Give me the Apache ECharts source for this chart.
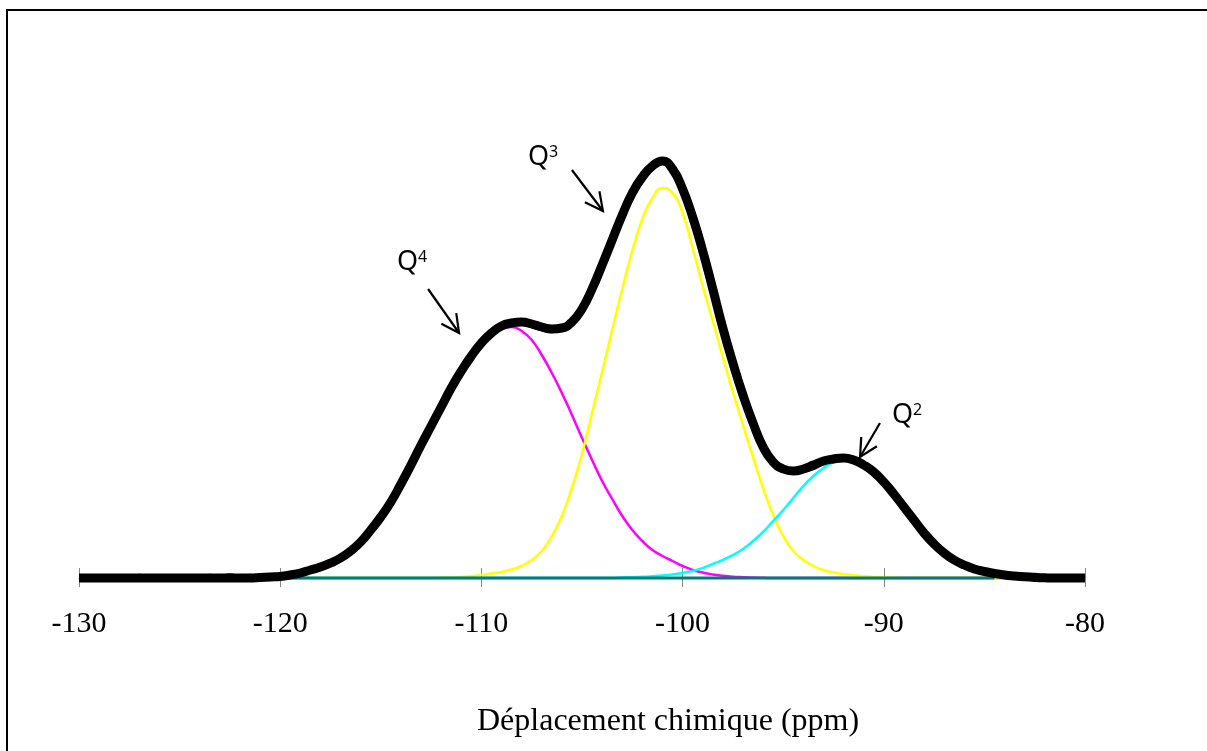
<!DOCTYPE html>
<html><head><meta charset="utf-8">
<script src="https://cdn.jsdelivr.net/npm/echarts@6/dist/echarts.min.js"></script>
<style>html,body{margin:0;padding:0;background:#fff;}#c{width:1207px;height:751px;}</style>
</head><body><div id="c"></div>
<script>
// chemical shift grid (ppm)
const ppm = [-130,-129.5,-129,-128.5,-128,-127.5,-127,-126.5,-126,-125.5,-125,-124.5,-124,-123.5,-123,-122.5,-122,-121.5,
-121,-120.5,-120,-119.5,-119,-118.5,-118,-117.5,-117,-116.5,-116,-115.5,-115,-114.5,-114,-113.5,-113,-112.5,-112,-111.5,
-111,-110.5,-110,-109.5,-109,-108.5,-108,-107.5,-107,-106.5,-106,-105.5,-105,-104.5,-104,-103.5,-103,-102.5,-102,-101.5,
-101,-100.5,-100,-99.5,-99,-98.5,-98,-97.5,-97,-96.5,-96,-95.5,-95,-94.5,-94,-93.5,-93,-92.5,-92,-91.5,
-91,-90.5,-90,-89.5,-89,-88.5,-88,-87.5,-87,-86.5,-86,-85.5,-85,-84.5,-84,-83.5,-83,-82.5,-82,-81.5,-81,-80.5,-80];

// total fit (black)
const totalFit = [0,0,0,0,0,0,0,0,0,0,0,0,0,0,0,0,0,0,
0.5,1,1.5,3,5,8,11,15,20,27,36,48,61,76,94,113,133,152,171,190,
207,222,235,245,252,255,256,254,251,249,250,256,269,289,313,338,363,385,401,412,
417,409,389,361,327,289,250,215,183,155,131,116,109,107,109,113,117,119,120,118,
113,106,96,84,71,58,45,34,25,18,13,9,6.5,4.5,3,2,1.2,0.6,0.2,0,0,0,0];

// experimental spectrum (navy)
const experimental = [0,0,0,0,0,1,3,1,0,0,1.5,2.5,1,3,2,3.5,2,3,
1,1.5,2,3.5,6,9,12,17,22,29,39,51,64,80,98,117,137,156,175,193,
210,225,237,246,252,254,254,251,248,246,248,255,270,291,316,341,366,387,402,412,
416,410,393,366,333,295,256,221,188,159,133,115,107,105,106,109,114,118,120,118,
113,106,96,83,69,55,42,32,24,18,13,9,6.5,4.5,5,2.5,1.5,4,1,0,0,0,2];

// Q4 component (magenta)
const q4 = [0,0,0,0,0,0,0,0,0,0,0,0,0,0,0,0,0,0,
0,0,1,2,4,6,9,13,18,25,34,45,59,74,91,110,130,149,168,187,
204,219,231,242,249,251,247,238,223,205,185,163,140,118,97,79,62,48,37,28,
22,17,12,8,5.5,3.5,2.2,1.3,0.8,0.4,0.2,0,0,0,0,0,0,0,0,0,
0,0,0,0,0,0,0,0,0,0,0,0,0,0,0,0,0,0,0,0,0,0,0];

// Q3 component (yellow)
const q3 = [0,0,0,0,0,0,0,0,0,0,0,0,0,0,0,0,0,0,
0,0,0,0,0,0,0,0,0,0,0,0,0,0,0,0,0,0,0.3,0.6,
1,2,3,4.5,6,8.5,12,18,27,42,62,90,124,165,206,248,289,327,359,380,
390,385,365,330,292,257,221,186,153,121,90,63,42,27,18,12,8,5.5,4,2.7,
1.8,1.1,0.6,0.3,0,0,0,0,0,0,0,0,0,0,0,0,0,0,0,0,0,0,0];

// Q2 component (cyan)
const q2 = [0,0,0,0,0,0,0,0,0,0,0,0,0,0,0,0,0,0,
0,0,0,0,0,0,0,0,0,0,0,0,0,0,0,0,0,0,0,0,
0,0,0,0,0,0,0,0,0,0,0,0,0,0,0,0,0.5,0.8,1.2,1.8,
2.5,3.5,5,7,10,14,18,23,29,37,46,57,68,80,92,102,110,116,119,117,
112,105,95,83,70,57,44,33,24,17,12,8.5,6,4,2.5,1.6,1,0.5,0.2,0,0,0,0];

// fit baseline (teal)
const baselineX = [-120, -84.5];
const baselineY = [0, 0];

const xTicks = [-130, -120, -110, -100, -90, -80];
const axisTitle = 'Déplacement chimique (ppm)';
const peakLabels = ['4', '3', '2'];

function pairs(xs, ys) { return xs.map((x, i) => [x, ys[i]]); }

const chart = echarts.init(document.getElementById('c'), null, {renderer: 'canvas'});
const serifFont = '"Liberation Serif","Times New Roman",serif';

function lineSeries(name, xs, ys, color, width) {
  return {
    name, type: 'line', data: pairs(xs, ys), symbol: 'none', smooth: 0.5,
    clip: false, silent: true,
    lineStyle: {color, width, join: 'round', cap: 'butt'}, xAxisIndex: 0, yAxisIndex: 0
  };
}

chart.setOption({
  animation: false,
  backgroundColor: '#ffffff',
  grid: {left: 79, right: 122, top: 78, bottom: 173, containLabel: false},
  xAxis: [
    {
      type: 'value', min: xTicks[0], max: xTicks[xTicks.length - 1], interval: 10,
      position: 'bottom',
      axisLine: {show: true, onZero: false, lineStyle: {color: '#868686', width: 1}},
      axisTick: {show: true, inside: false, length: 9, lineStyle: {color: '#868686', width: 1}},
      axisLabel: {show: true, margin: 31, color: '#000', fontFamily: serifFont, fontSize: 30},
      splitLine: {show: false}
    },
    {
      type: 'value', min: xTicks[0], max: xTicks[xTicks.length - 1], interval: 10,
      position: 'bottom',
      axisLine: {show: false, onZero: false},
      axisTick: {show: true, inside: true, length: 10, lineStyle: {color: '#868686', width: 1}},
      axisLabel: {show: false},
      splitLine: {show: false}
    }
  ],
  yAxis: {type: 'value', min: 0, max: 500, show: false, splitLine: {show: false}},
  series: [
    lineSeries('Q4', ppm, q4, '#ff00ff', 2.5),
    lineSeries('Q3', ppm, q3, '#ffff00', 2.5),
    lineSeries('Q2', ppm, q2, '#00ffff', 2.5),
    lineSeries('Ligne de base', baselineX, baselineY, '#007a7a', 3),
    lineSeries('Expérimental', ppm, experimental, '#000080', 2.5),
    lineSeries('Ajustement', ppm, totalFit, '#000000', 9)
  ]
});

// annotation layout (data-space anchors)
const notes = [
  {sup: peakLabels[0], text: [-114.19, 330], tail: [-112.65, 289], head: [-111.11, 245]},
  {sup: peakLabels[1], text: [-107.68, 435], tail: [-105.5, 408], head: [-103.96, 367]},
  {sup: peakLabels[2], text: [-89.59, 177], tail: [-90.19, 155], head: [-91.18, 121]}
];
const sansFont = '"Noto Sans","Open Sans",sans-serif';
const graphics = [
  {type: 'rect', shape: {x: 7, y: 10, width: 1260, height: 800},
   style: {fill: 'none', stroke: '#000', lineWidth: 2}, silent: true, z: 100}
];
notes.forEach(n => {
  const t = chart.convertToPixel({gridIndex: 0}, n.text);
  const a = chart.convertToPixel({gridIndex: 0}, n.tail);
  const b = chart.convertToPixel({gridIndex: 0}, n.head);
  graphics.push({type: 'text', x: t[0], y: t[1] + 1, silent: true, z: 100,
    style: {text: 'Q', font: '27px ' + sansFont, fill: '#000', textVerticalAlign: 'top'}});
  graphics.push({type: 'text', x: t[0] + 21, y: t[1] + 1, silent: true, z: 100,
    style: {text: n.sup, font: '16px ' + sansFont, fill: '#000', textVerticalAlign: 'top'}});
  const dx = a[0] - b[0], dy = a[1] - b[1];
  const L = Math.hypot(dx, dy), ux = dx / L, uy = dy / L;
  const hl = 20, ang = 27 * Math.PI / 180;
  const rot = (s) => [b[0] + hl * (ux * Math.cos(s) - uy * Math.sin(s)), b[1] + hl * (ux * Math.sin(s) + uy * Math.cos(s))];
  graphics.push({type: 'polyline', shape: {points: [a, b]}, silent: true, z: 100,
    style: {stroke: '#000', lineWidth: 2.2, fill: null}});
  graphics.push({type: 'polyline', shape: {points: [rot(ang), b, rot(-ang)]}, silent: true, z: 100,
    style: {stroke: '#000', lineWidth: 2.2, fill: null}});
});
graphics.push({type: 'text', x: 477, y: 706, silent: true, z: 100,
  style: {text: axisTitle, font: '32px ' + serifFont, fill: '#000', textVerticalAlign: 'top'}});
chart.setOption({graphic: graphics});
</script>
</body></html>
